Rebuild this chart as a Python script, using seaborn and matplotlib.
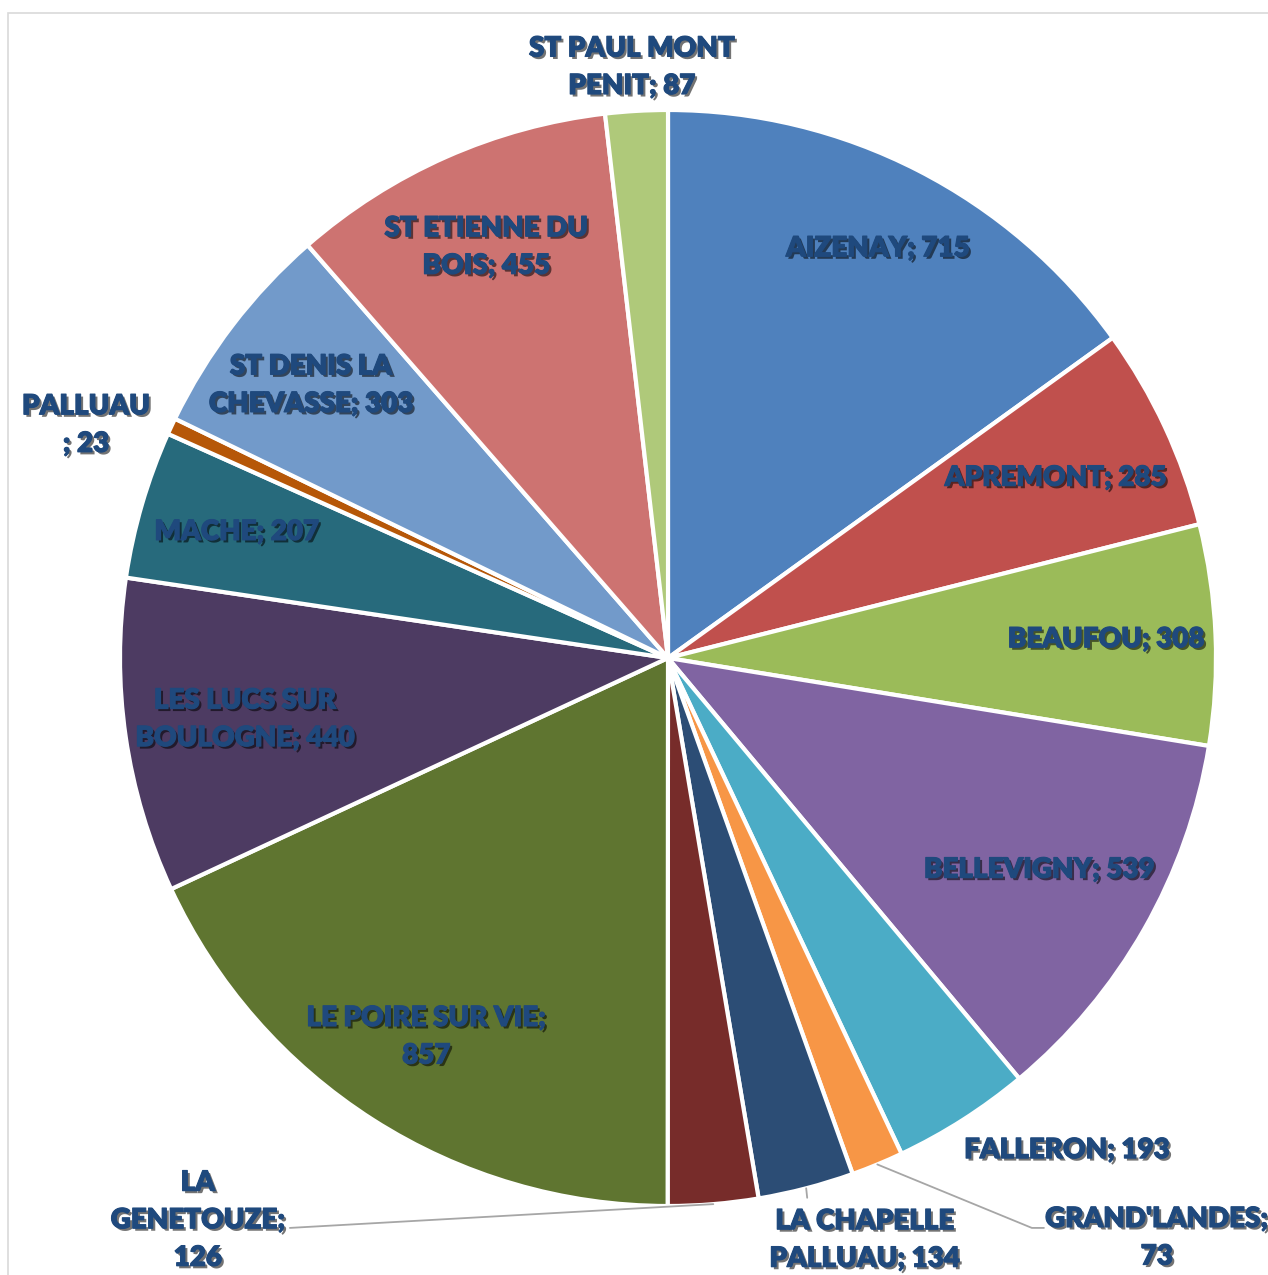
import numpy as np
import seaborn as sns
import matplotlib.pyplot as plt
import matplotlib.patheffects as pe
from matplotlib.patches import Rectangle

sns.set_theme(style="white")
plt.rcParams['font.family'] = ['Lato', 'DejaVu Sans']

# Commune data (clockwise from the top)
communes = ["AIZENAY", "APREMONT", "BEAUFOU", "BELLEVIGNY", "FALLERON",
            "GRAND'LANDES", "LA CHAPELLE PALLUAU", "LA GENETOUZE",
            "LE POIRE SUR VIE", "LES LUCS SUR BOULOGNE", "MACHE", "PALLUAU",
            "ST DENIS LA CHEVASSE", "ST ETIENNE DU BOIS", "ST PAUL MONT PENIT"]
values = [715, 285, 308, 539, 193, 73, 134, 126, 857, 440, 207, 23, 303, 455, 87]
labels = ["AIZENAY; 715", "APREMONT; 285", "BEAUFOU; 308", "BELLEVIGNY; 539",
          "FALLERON; 193", "GRAND'LANDES;\n73", "LA CHAPELLE\nPALLUAU; 134",
          "LA\nGENETOUZE;\n126", "LE POIRE SUR VIE;\n857",
          "LES LUCS SUR\nBOULOGNE; 440", "MACHE; 207", "PALLUAU\n; 23",
          "ST DENIS LA\nCHEVASSE; 303", "ST ETIENNE DU\nBOIS; 455",
          "ST PAUL MONT\nPENIT; 87"]
colors = ["#4F81BD", "#C0504D", "#9BBB59", "#8064A2", "#4BACC6", "#F79646",
          "#2C4D75", "#772C2A", "#5F7530", "#4D3B62", "#276A7C", "#B65708",
          "#729ACA", "#CD7371", "#AFC97A"]

# Labels placed outside the pie (axes data units, radius = 1)
outside = {"FALLERON": (0.728, -0.898),
           "GRAND'LANDES": (0.892, -1.058),
           "LA CHAPELLE PALLUAU": (0.359, -1.062),
           "LA GENETOUZE": (-0.858, -1.026),
           "PALLUAU": (-1.062, 0.425),
           "ST PAUL MONT PENIT": (-0.066, 1.078)}
# Leader line elbows for some outside labels
leaders = {"GRAND'LANDES": [(0.664, -1.040), (0.686, -1.040)],
           "LA CHAPELLE PALLUAU": [(0.254, -0.985)],
           "LA GENETOUZE": [(-0.690, -1.040)]}
label_r = {"AIZENAY": 0.84, "BEAUFOU": 0.80, "LES LUCS SUR BOULOGNE": 0.78,
           "APREMONT": 0.78, "BELLEVIGNY": 0.78}

W, H = 1268, 1275
fig = plt.figure(figsize=(W / 100, H / 100), dpi=100)
fig.patch.set_facecolor("white")
fig.patches.append(Rectangle((8 / W, -0.01), 1.0, 1 - 13 / H + 0.01,
                             transform=fig.transFigure, fill=False,
                             edgecolor="#D9D9D9", linewidth=1.2))

cx, cy, R = 668, 658, 548
ax = fig.add_axes([(cx - R) / W, (H - cy - R) / H, 2 * R / W, 2 * R / H])
wedges, _ = ax.pie(values, colors=colors, startangle=90, counterclock=False,
                   radius=1, wedgeprops=dict(edgecolor="white", linewidth=3))
ax.set_xlim(-1, 1)
ax.set_ylim(-1, 1)
ax.set_aspect("equal")
ax.axis("off")

shadow = [pe.SimplePatchShadow(offset=(1.8, -1.8), shadow_rgbFace="black", alpha=0.55),
          pe.Stroke(linewidth=0.8, foreground="#1F497D"),
          pe.Normal()]

total = sum(values)
cum = np.cumsum([0] + values)
for i, name in enumerate(communes):
    mid = (cum[i] + cum[i + 1]) / 2 / total * 2 * np.pi
    sx, sy = np.sin(mid), np.cos(mid)
    if name in outside:
        x, y = outside[name]
    else:
        r = label_r.get(name, 0.82)
        x, y = r * sx, r * sy
    if name in leaders:
        pts = [(sx, sy)] + leaders[name]
        ax.plot([p[0] for p in pts], [p[1] for p in pts], color="#A6A6A6",
                lw=1.3, clip_on=False, zorder=1)
    ax.text(x, y, labels[i], ha="center", va="center", fontsize=20,
            fontweight="heavy", color="#1F497D", linespacing=1.55,
            path_effects=shadow, clip_on=False, zorder=5)

fig.savefig("out.png", dpi=100)
